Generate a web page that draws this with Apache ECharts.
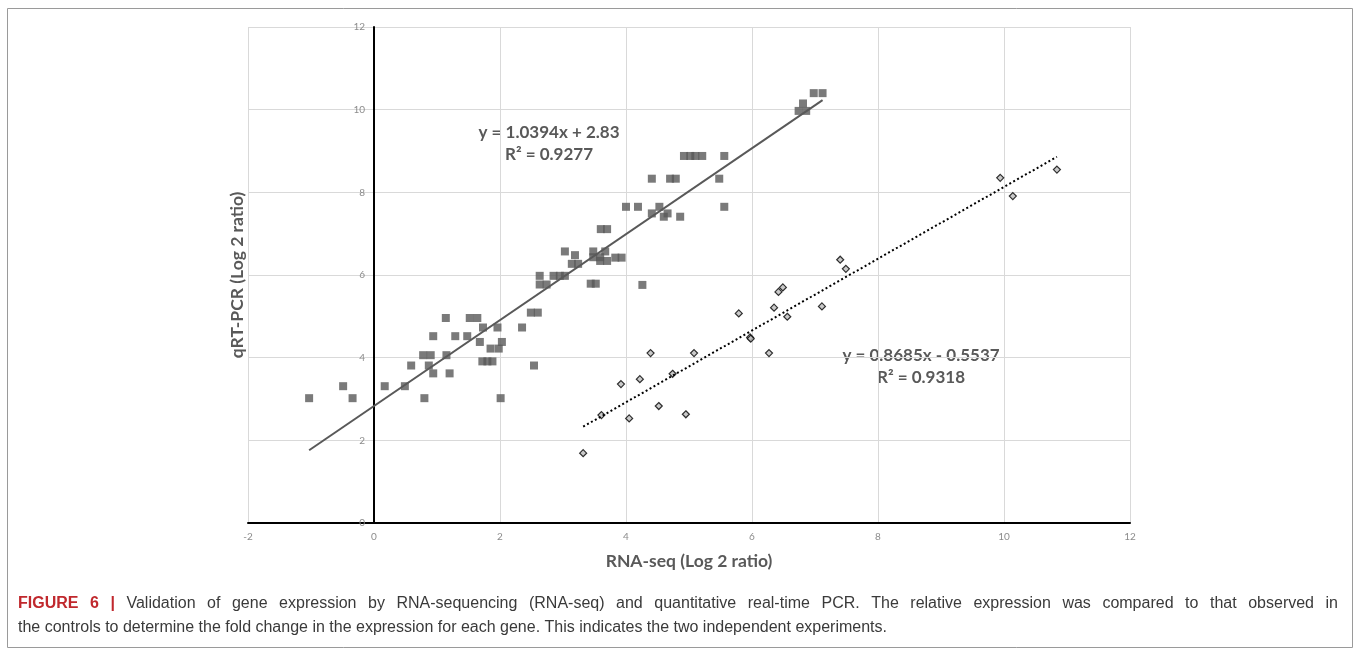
<!DOCTYPE html>
<html>
<head>
<meta charset="utf-8">
<title>Figure 6</title>
<script src="https://cdn.jsdelivr.net/npm/echarts@6/dist/echarts.min.js"></script>
<style>
  html, body { margin: 0; padding: 0; background: #fff; }
  #chart { width: 1360px; height: 656px; }
</style>
</head>
<body>
<div id="chart"></div>
<script>
// RNA-seq (x) vs qRT-PCR (y), experiment 1 (filled squares)
const exp1Points = [
  [-1.03, 3.02], [-0.49, 3.31], [-0.34, 3.02], [0.17, 3.31], [0.49, 3.31],
  [0.59, 3.81], [0.78, 4.06], [0.90, 4.06], [0.87, 3.81], [0.80, 3.02],
  [0.94, 3.62], [0.94, 4.52], [1.14, 4.96], [1.15, 4.06], [1.20, 3.62],
  [1.29, 4.52], [1.48, 4.52], [1.52, 4.96], [1.64, 4.96], [1.73, 4.73],
  [1.68, 4.38], [1.72, 3.91], [1.80, 3.91], [1.88, 3.91], [1.85, 4.22],
  [1.96, 4.73], [1.98, 4.22], [2.03, 4.38], [2.01, 3.02], [2.35, 4.73],
  [2.49, 5.09], [2.60, 5.09], [2.54, 3.81], [2.63, 5.98], [2.63, 5.77],
  [2.74, 5.77], [2.85, 5.98], [2.95, 5.98], [3.03, 5.98], [3.03, 6.57],
  [3.19, 6.48], [3.14, 6.27], [3.24, 6.27], [3.44, 5.79], [3.52, 5.79],
  [3.48, 6.57], [3.48, 6.43], [3.59, 6.43], [3.59, 6.34], [3.70, 6.34],
  [3.60, 7.11], [3.70, 7.11], [3.67, 6.57], [3.83, 6.42], [3.93, 6.42],
  [4.00, 7.65], [4.19, 7.65], [4.26, 5.76], [4.41, 7.49], [4.53, 7.65],
  [4.60, 7.41], [4.66, 7.49], [4.86, 7.41], [4.41, 8.33], [4.70, 8.33],
  [4.79, 8.33], [4.92, 8.88], [5.02, 8.88], [5.10, 8.88], [5.21, 8.88],
  [5.56, 8.88], [5.48, 8.33], [5.56, 7.65], [6.74, 9.97], [6.86, 9.97],
  [6.81, 10.15], [6.98, 10.40], [7.12, 10.40],
];

// experiment 2 (open diamonds)
const exp2Points = [
  [3.32, 1.69], [3.61, 2.61], [3.92, 3.36], [4.05, 2.53], [4.22, 3.48],
  [4.39, 4.11], [4.52, 2.83], [4.74, 3.61], [4.95, 2.63], [5.08, 4.11],
  [5.79, 5.07], [5.97, 4.49], [5.98, 4.46], [6.27, 4.11], [6.35, 5.21],
  [6.42, 5.59], [6.49, 5.70], [6.56, 4.99], [7.11, 5.24], [7.40, 6.37],
  [7.49, 6.15], [9.94, 8.35], [10.14, 7.91], [10.84, 8.55],
];

// trend line end points
const exp1Trend = [[-1.03, 1.76], [7.12, 10.23]];
const exp2Trend = [[3.32, 2.33], [10.84, 8.86]];

const exp1Label = ['y = 1.0394x + 2.83', 'R² = 0.9277'];
const exp2Label = ['y = 0.8685x - 0.5537', 'R² = 0.9318'];

const xTicks = { min: -2, max: 12, step: 2 };
const yTicks = { min: 0, max: 12, step: 2 };

const xTitle = 'RNA-seq (Log 2 ratio)';
const yTitle = 'qRT-PCR (Log 2 ratio)';

const captionHead = 'FIGURE 6 |';
const captionLine1 = 'Validation of gene expression by RNA-sequencing (RNA-seq) and quantitative real-time PCR. The relative expression was compared to that observed in';
const captionLine2 = 'the controls to determine the fold change in the expression for each gene. This indicates the two independent experiments.';

const FONT = 'Lato, "Open Sans", sans-serif';
const CAP_FONT = '16px "Liberation Sans", Arial, sans-serif';
const CAP_HEAD_FONT = 'bold 16px "Liberation Sans", Arial, sans-serif';
const DARK = '#595959';

// first caption line is justified: spread the words over the full width
const capLeft = 18;
const capRight = 1338;
const ctx = document.createElement('canvas').getContext('2d');
const words = [];
captionHead.split(' ').forEach(w => words.push({ w, head: true }));
captionLine1.split(' ').forEach(w => words.push({ w, head: false }));
let wordsWidth = 0;
words.forEach(o => {
  ctx.font = o.head ? CAP_HEAD_FONT : CAP_FONT;
  wordsWidth += ctx.measureText(o.w).width;
});
const gap = (capRight - capLeft - wordsWidth) / (words.length - 1);
const justified = words
  .map(o => (o.head ? '{h|' : '{t|') + o.w + '}')
  .join('{g| }');

const chart = echarts.init(document.getElementById('chart'));

const option = {
  animation: false,
  backgroundColor: '#fff',
  grid: {
    left: 248,
    right: 230,
    top: 27,
    bottom: 133,
  },
  xAxis: {
    type: 'value',
    min: xTicks.min,
    max: xTicks.max,
    interval: xTicks.step,
    axisLine: { onZero: true, lineStyle: { color: '#000', width: 2 } },
    axisTick: { show: false },
    axisLabel: { color: '#8c8c8c', fontSize: 10, fontFamily: FONT, margin: 9 },
    splitLine: { show: true, lineStyle: { color: '#d9d9d9', width: 1 } },
  },
  yAxis: {
    type: 'value',
    min: yTicks.min,
    max: yTicks.max,
    interval: yTicks.step,
    // the vertical axis sits at x = 0, two units right of the grid edge
    offset: -126,
    axisLine: { show: true, onZero: false, lineStyle: { color: '#000', width: 2 } },
    axisTick: { show: false },
    axisLabel: { color: '#8c8c8c', fontSize: 10, fontFamily: FONT, margin: 9 },
    splitLine: { show: true, lineStyle: { color: '#d9d9d9', width: 1 } },
  },
  series: [
    {
      name: 'exp1',
      type: 'scatter',
      symbol: 'rect',
      symbolSize: 8,
      itemStyle: { color: DARK },
      data: exp1Points,
      z: 3,
    },
    {
      name: 'exp1 trend',
      type: 'line',
      data: exp1Trend,
      symbol: 'none',
      lineStyle: { color: DARK, width: 2 },
      z: 4,
    },
    {
      name: 'exp2',
      type: 'scatter',
      symbol: 'diamond',
      symbolSize: 7,
      itemStyle: { color: '#bdbdbd', borderColor: '#000', borderWidth: 1.2 },
      data: exp2Points,
      z: 3,
    },
    {
      name: 'exp2 trend',
      type: 'line',
      data: exp2Trend,
      symbol: 'none',
      lineStyle: { color: '#000', width: 2, type: [2, 2.5] },
      z: 4,
    },
  ],
  graphic: [
    // outer frame
    {
      type: 'rect',
      shape: { x: 7.5, y: 8.5, width: 1345, height: 639 },
      style: { fill: 'none', stroke: '#9a9a9a', lineWidth: 1 },
      silent: true,
    },
    {
      type: 'text',
      x: 689,
      y: 561,
      style: {
        text: xTitle, fill: DARK, font: 'bold 17.5px ' + FONT,
        textAlign: 'center', textVerticalAlign: 'middle',
      },
    },
    {
      type: 'text',
      x: 237,
      y: 275,
      rotation: Math.PI / 2,
      style: {
        text: yTitle, fill: DARK, font: 'bold 17.5px ' + FONT,
        textAlign: 'center', textVerticalAlign: 'middle',
      },
    },
    {
      type: 'text',
      x: 549,
      y: 144,
      style: {
        text: exp1Label.join('\n'), fill: DARK, font: 'bold 17px ' + FONT,
        textAlign: 'center', textVerticalAlign: 'middle', lineHeight: 22,
      },
    },
    {
      type: 'text',
      x: 921,
      y: 367,
      style: {
        text: exp2Label.join('\n'), fill: DARK, font: 'bold 17px ' + FONT,
        textAlign: 'center', textVerticalAlign: 'middle', lineHeight: 22,
      },
    },
    {
      type: 'text',
      x: capLeft,
      y: 604,
      style: {
        text: justified,
        textVerticalAlign: 'middle',
        rich: {
          h: { fill: '#c0282d', font: CAP_HEAD_FONT },
          t: { fill: '#3a3a3a', font: CAP_FONT },
          g: { font: CAP_FONT, width: gap },
        },
      },
    },
    {
      type: 'text',
      x: capLeft,
      y: 628,
      style: {
        text: captionLine2, fill: '#3a3a3a', font: CAP_FONT,
        textVerticalAlign: 'middle',
      },
    },
  ],
};

chart.setOption(option);
</script>
</body>
</html>
